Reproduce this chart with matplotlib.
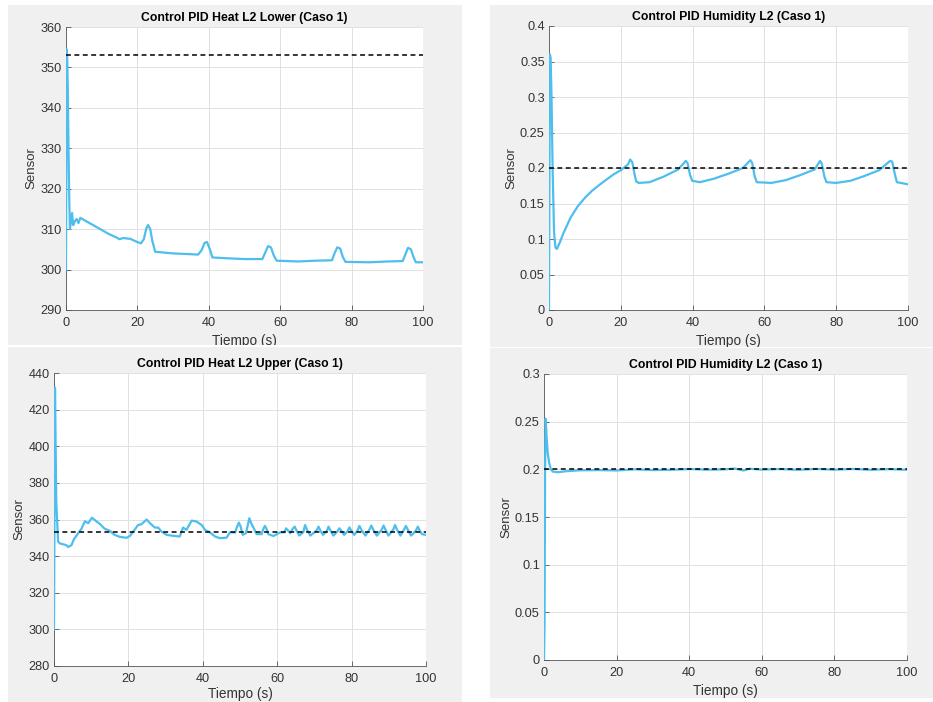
import matplotlib
matplotlib.use("Agg")
import matplotlib.pyplot as plt
from matplotlib.patches import Rectangle
from matplotlib.ticker import FuncFormatter
from matplotlib.transforms import Bbox

plt.rcParams['font.family'] = ['Liberation Sans', 'DejaVu Sans']

# ---------------- data ----------------
titles = ["Control PID Heat L2 Lower (Caso 1)", "Control PID Humidity L2 (Caso 1)",
          "Control PID Heat L2 Upper (Caso 1)", "Control PID Humidity L2 (Caso 1)"]
xlabel_text = "Tiempo (s)"
ylabel_text = "Sensor"
x_ticks = [0, 20, 40, 60, 80, 100]

# Panel 1: Heat L2 Lower
setpoint_1 = 353
t1 = [0, 0.2, 0.35, 0.5, 0.7, 0.9, 1.1, 1.4, 1.7, 2.0, 2.5, 3.0, 3.5, 4.0, 5.0, 6.0, 8.0, 10.0,
      12.0, 14.0, 15.0, 16.0, 18.0, 20.0, 21.0, 21.8, 22.5, 23.0, 23.6, 24.2, 25.0, 30.0, 35.0,
      37.0, 38.0, 38.8, 39.5, 40.3, 41.0, 45.0, 50.0, 55.0, 55.8, 56.6, 57.4, 58.2, 59.0, 65.0,
      70.0, 74.5, 75.3, 76.0, 76.8, 77.6, 78.3, 85.0, 90.0, 94.3, 95.1, 95.8, 96.6, 97.3, 98.0, 100.0]
y1 = [300, 354.5, 352, 345, 330, 318, 310, 312, 314, 311, 312, 312.5, 311.5, 312.8, 312.3, 311.8,
      310.8, 309.8, 308.8, 308, 307.5, 307.8, 307.6, 306.8, 306.5, 307.5, 310.2, 311, 310, 307,
      304.4, 304, 303.8, 303.7, 304.8, 306.6, 306.8, 305, 303, 302.8, 302.6, 302.6, 304.2, 305.8,
      305.5, 303.5, 302.2, 302, 302.2, 302.3, 304.2, 305.5, 305.2, 303, 301.9, 301.8, 302, 302.1,
      303.8, 305.4, 305, 303.2, 301.8, 301.8]

# Panel 2: Humidity L2 (top)
setpoint_2 = 0.2
t2 = [0, 0.25, 0.45, 0.7, 1.0, 1.4, 1.8, 2.2, 3.0, 4.0, 6.0, 8.0, 10.0, 12.0, 15.0, 18.0, 20.0,
      22.0, 22.6, 23.2, 23.8, 24.3, 25.0, 28.0, 32.0, 36.0, 38.1, 38.6, 39.3, 39.9, 42.0, 46.0,
      50.0, 54.0, 56.1, 56.6, 57.3, 57.9, 62.0, 66.0, 70.0, 74.0, 75.5, 76.0, 76.7, 77.3, 80.0,
      84.0, 88.0, 92.0, 95.0, 95.6, 96.3, 96.9, 98.0, 100.0]
y2 = [0.0, 0.36, 0.355, 0.3, 0.2, 0.11, 0.088, 0.086, 0.095, 0.108, 0.13, 0.146, 0.158, 0.168,
      0.18, 0.191, 0.197, 0.205, 0.212, 0.208, 0.192, 0.181, 0.179, 0.18, 0.188, 0.198, 0.21,
      0.207, 0.19, 0.182, 0.18, 0.185, 0.192, 0.2, 0.211, 0.207, 0.188, 0.18, 0.179, 0.183, 0.19,
      0.198, 0.21, 0.206, 0.188, 0.18, 0.179, 0.182, 0.189, 0.197, 0.21, 0.209, 0.192, 0.18,
      0.179, 0.177]

# Panel 3: Heat L2 Upper
setpoint_3 = 353
t3 = [0, 0.27, 0.6, 1.1, 1.5, 3.3, 3.8, 4.7, 5.3, 6.5, 7.4, 8.3, 9.2, 10.2, 11.4, 12.3, 13.6, 15.0,
      16.3, 17.7, 19.5, 20.4, 21.3, 22.6, 23.5, 24.9, 25.8, 27.1, 28.0, 28.9, 30.3, 31.6, 33.8,
      34.7, 35.6, 37.0, 38.3, 39.7, 40.6, 41.9, 43.3, 44.6, 46.4, 47.3, 48.7, 49.2, 49.7, 50.2,
      50.7, 51.6, 52.1, 52.5, 53.0, 53.6, 54.5, 55.8, 56.3, 56.7, 57.1, 57.6, 59.0, 60.8, 61.9,
      62.4, 62.9, 63.5, 64.2, 64.7, 65.2, 65.9, 67.0, 67.5, 68.0, 68.9, 70.6, 71.1, 71.6, 72.3,
      73.3, 73.8, 74.3, 75.1, 76.2, 76.7, 77.2, 78.0, 78.9, 79.4, 79.9, 80.7, 81.6, 82.1, 82.6,
      83.7, 84.8, 85.3, 85.8, 86.8, 88.1, 88.6, 89.1, 89.9, 91.2, 91.7, 92.2, 93.1, 94.1, 94.6,
      95.1, 96.0, 97.3, 97.8, 98.3, 98.9, 100.0]
y3 = [300, 432, 370, 348, 347, 346, 345, 346, 349, 352.5, 355, 359, 358, 361, 359, 357.6, 355,
      353.8, 351.6, 350.5, 350, 351, 353.4, 357, 357.4, 360, 358, 355.6, 355.6, 353.4, 351.6,
      351.2, 350.7, 355.6, 354.3, 359.4, 358.9, 357, 354.3, 353, 350.7, 349.8, 350.1, 353, 352.9,
      356, 358.3, 356, 351.6, 352.5, 357, 360.7, 358, 355.6, 352, 352, 355, 356.5, 355, 352, 351,
      353, 353, 355.2, 354, 352.5, 355, 356.1, 354, 351.2, 353, 357, 354.5, 351.2, 354, 356.1,
      354, 351.6, 353.5, 356.1, 354, 351.2, 353.5, 355.2, 354, 351.6, 353.5, 355.7, 354, 351.6,
      354, 356.5, 354.5, 351.2, 354.5, 356.7, 354.5, 351.2, 354.5, 356.7, 354.5, 351.2, 354.5,
      357, 354.5, 351.2, 354.5, 356.5, 354.5, 351.2, 354, 356.1, 354, 352, 351.6]

# Panel 4: Humidity L2 (bottom)
setpoint_4 = 0.2
t4 = [0, 0.15, 0.3, 0.45, 0.7, 1.0, 1.4, 1.9, 2.5, 4.0, 6.0, 8.0, 10.0, 15.0, 20.0, 25.0, 30.0,
      35.0, 40.0, 45.0, 50.0, 52.5, 55.0, 56.5, 60.0, 65.0, 70.0, 75.0, 80.0, 85.0, 90.0, 95.0, 100.0]
y4 = [0.0, 0.04, 0.2, 0.253, 0.235, 0.218, 0.207, 0.2, 0.1975, 0.197, 0.198, 0.1985, 0.199,
      0.1992, 0.1988, 0.2, 0.1992, 0.1995, 0.2003, 0.1996, 0.2, 0.2008, 0.1988, 0.2006, 0.1997,
      0.2003, 0.1995, 0.2004, 0.1996, 0.2004, 0.1995, 0.2002, 0.1995]

y_ticks = [list(range(290, 361, 10)),
           [0, 0.05, 0.1, 0.15, 0.2, 0.25, 0.3, 0.35, 0.4],
           list(range(280, 441, 20)),
           [0, 0.05, 0.1, 0.15, 0.2, 0.25, 0.3]]

# ---------------- layout (pixels, top-left origin) ----------------
W, H = 933, 702
panel_boxes = [(8, 5, 462, 345), (490, 5, 933, 347), (8, 347, 462, 702), (490, 348, 933, 698)]
axes_boxes = [(66, 27, 423, 310), (549, 26, 908, 310), (54, 373, 426, 666), (544, 374, 907, 660)]
xlabel_pads = [4, 4, 1.5, 4]

line_color = '#4DBEEE'
txt_color = '#333333'
bg = '#F0F0F0'

fig = plt.figure(figsize=(W / 100, H / 100), dpi=100, facecolor='white')

for (x0, y0, x1, y1_) in panel_boxes:
    fig.patches.append(Rectangle((x0 / W, 1 - y1_ / H), (x1 - x0) / W, (y1_ - y0) / H,
                                 transform=fig.transFigure, facecolor=bg, edgecolor='none',
                                 zorder=-5))

series = [(t1, y1, setpoint_1), (t2, y2, setpoint_2), (t3, y3, setpoint_3), (t4, y4, setpoint_4)]

fmt = FuncFormatter(lambda v, p: f"{v:g}")

for i, ((x0, y0, x1, y1_), (t, y, sp)) in enumerate(zip(axes_boxes, series)):
    ax = fig.add_axes([x0 / W, 1 - y1_ / H, (x1 - x0) / W, (y1_ - y0) / H])
    ax.set_zorder(1)
    ax.set_facecolor('white')
    ax.plot(t, y, color=line_color, lw=1.6, zorder=3, solid_joinstyle='round')
    ax.plot([0, 100], [sp, sp], color='black', lw=1.1, linestyle=(0, (3.2, 2.3)), zorder=4)
    ax.set_xlim(0, 100)
    ax.set_ylim(y_ticks[i][0], y_ticks[i][-1])
    ax.set_xticks(x_ticks)
    ax.set_yticks(y_ticks[i])
    ax.yaxis.set_major_formatter(fmt)
    ax.grid(True, color='#e1e1e1', lw=0.7)
    ax.set_axisbelow(True)
    for s in ('top', 'right'):
        ax.spines[s].set_visible(False)
    for s in ('left', 'bottom'):
        ax.spines[s].set_color('#555555')
        ax.spines[s].set_linewidth(0.6)
    ax.tick_params(direction='in', length=3.5, width=0.6, colors='#555555',
                   labelcolor=txt_color, labelsize=9.2)
    ax.tick_params(axis='x', pad=5)
    ax.tick_params(axis='y', pad=3)
    ax.set_title(titles[i], fontsize=8.8, fontweight='bold', color='black', pad=4)
    ax.set_ylabel(ylabel_text, fontsize=9.5, color=txt_color, labelpad=2)
    xl = ax.set_xlabel(xlabel_text, fontsize=9.8, color=txt_color, labelpad=xlabel_pads[i])
    px0, py0, px1, py1 = panel_boxes[i]
    if i < 2:
        clip = Bbox.from_extents(px0, H - py1, px1, H - py0)
        xl.set_clip_box(clip)
        xl.set_clip_on(True)

fig.savefig('out.png', dpi=100, facecolor='white')
